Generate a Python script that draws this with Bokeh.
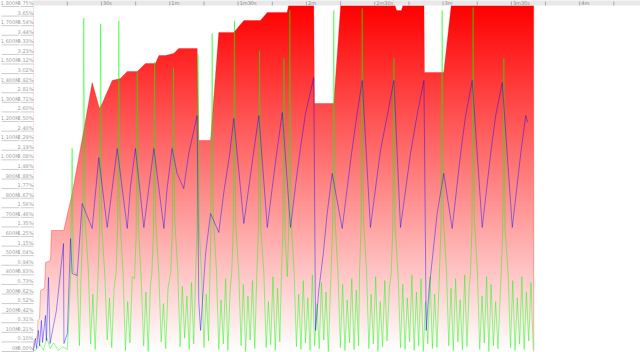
import numpy as np
from bokeh.plotting import figure
from bokeh.models import Range1d
from bokeh.embed import file_html
from bokeh.resources import INLINE
from bokeh.core.properties import value

# ---------------- data (seconds, megabytes) ----------------
# heap size (red filled envelope)
heap_t = [0.0, 0.1, 0.35, 1.45, 1.9, 2.1, 2.8, 3.2, 5.0, 5.4, 7.6, 8.0, 13.4, 17.1, 22.2, 25.9,
          29.1, 30.3, 34.7, 38.3, 41.3, 45.7, 49.3, 53.7, 55.2, 58.1, 61.7, 63.9, 72.0, 72.7,
          77.9, 81.5, 88.1, 88.8, 92.5, 99.8, 102.8, 111.5, 113.0, 123.2, 123.5, 132.0, 135.3,
          157.7, 159.6, 161.7, 163.5, 171.6, 171.8, 180.3, 184.0, 219.8, 219.8]
heap_v = [0, 10, 57, 68, 94, 162, 172, 318, 329, 464, 475, 631, 631, 824, 1153, 1403,
          1268, 1294, 1414, 1424, 1461, 1461, 1503, 1503, 1544, 1544, 1555, 1581, 1581, 1101,
          1101, 1664, 1664, 1675, 1727, 1727, 1769, 1769, 1850, 1850, 1294, 1294, 1850,
          1850, 1779, 1779, 1850, 1850, 1456, 1456, 1850, 1850, 0]

# used memory (blue line)
used_t = [0.1, 1.0, 1.45, 2.3, 2.8, 3.6, 4.1, 5.4, 5.8, 6.7, 7.4, 8.5, 10.2, 13.3, 13.5, 15.0,
          16.4, 17.1, 19.3, 21.5, 25.9, 28.8, 32.5, 34.7, 36.9, 41.3, 42.7, 44.9, 48.6, 50.8,
          53.0, 57.4, 58.8, 61.0, 63.2, 66.1, 68.3, 72.0, 72.7, 73.5, 75.7, 77.9, 81.5, 83.7,
          86.2, 88.1, 92.5, 96.6, 99.1, 102.8, 105.0, 107.2, 109.4, 113.0, 115.2, 117.4, 119.6,
          123.2, 124.0, 125.4, 127.4, 129.1, 131.3, 135.7, 139.8, 142.0, 144.5, 148.1, 152.5,
          155.5, 158.4, 161.3, 165.7, 168.7, 171.6, 172.6, 173.8, 177.4, 180.3, 184.0, 187.7,
          189.9, 192.8, 197.2, 200.9, 203.1, 206.0, 210.4, 214.1, 216.3, 217.1]
used_v = [5, 68, 16, 110, 31, 162, 47, 188, 57, 386, 42, 110, 214, 563, 42, 94,
          590, 407, 396, 772, 642, 1012, 647, 850, 1059, 642, 856, 1059, 647, 856,
          1059, 642, 850, 1059, 929, 850, 1033, 1231, 266, 110, 511, 720, 621, 830,
          1023, 1216, 668, 1023, 1231, 647, 856, 1059, 1247, 647, 866, 1064, 1242,
          1429, 110, 318, 511, 720, 929, 642, 1033, 1221, 1414, 647, 1049,
          1231, 1414, 647, 1033, 1242, 1414, 110, 318, 720, 929, 642, 1033,
          1231, 1414, 647, 1033, 1231, 1403, 647, 1033, 1231, 1195]

# collector activity (green line)
gc_t = [0, 1.5, 3, 4.5, 6, 7.5, 9, 11, 13, 15,
        16.4, 17.1, 17.6, 19.3, 20.3,
        21.0, 21.7, 22.2, 22.7, 24.2, 25.2, 26.2, 27.2,
        28.4, 29.1, 29.6, 30.1, 31.5, 32.5, 33.5, 34.5, 35.5,
        36.4, 37.1, 37.6, 38.1, 39.5, 40.5, 41.5, 42.5, 43.5,
        44.5, 45.2, 45.7, 46.2, 47.5, 48.5, 49.5, 50.5, 51.5,
        52.1, 52.8, 53.3, 53.8, 55.2, 56.2, 57.2, 58.2, 59.2,
        60.4, 61.1, 61.6, 62.1, 63.5, 64.5, 65.5, 66.5, 67.5, 68.5, 69.5, 70.5,
        71.3, 71.9, 72.4, 72.9, 74.0, 75.0, 76.0, 77.0,
        77.6, 78.1, 78.6, 79.1, 80.5, 81.5, 82.5, 83.5, 84.5, 85.5, 86.5,
        87.2, 87.9, 88.4, 88.9, 90.3, 91.3, 92.3, 93.3, 94.3, 95.3, 96.3, 97.3,
        98.2, 98.9, 99.4, 99.9, 101.3, 102.3, 103.3, 104.3, 105.3, 106.3, 107.3, 108.3,
        109.0, 109.6, 110.1, 110.6, 111.6, 112.2, 112.7, 113.2, 114.6, 115.6, 116.6, 117.6,
        118.6, 119.6, 120.6, 121.6, 122.6, 123.6, 124.6, 125.6, 126.6, 127.6, 128.6, 129.6,
        130.8, 131.5, 132.0, 132.5, 133.9, 134.9, 135.9, 136.9, 137.9, 138.9, 139.9, 140.9, 141.9, 142.9,
        143.3, 144.0, 144.5, 145.0, 146.4, 147.4, 148.4, 149.4, 150.4, 151.4, 152.4, 153.4, 154.4, 155.4, 156.4,
        157.2, 157.9, 158.4, 158.9, 160.3, 161.3, 162.3, 163.3, 164.3, 165.3, 166.3, 167.3, 168.3, 169.3,
        170.3, 171.3, 172.3, 173.3, 174.3, 175.3, 176.3, 177.3,
        178.4, 179.1, 179.6, 180.1, 181.5, 182.5, 183.5, 184.5, 185.5, 186.5, 187.5, 188.5, 189.5, 190.5, 191.5,
        192.0, 192.7, 193.2, 193.7, 195.1, 196.1, 197.1, 198.1, 199.1, 200.1, 201.1, 202.1, 203.1, 204.1,
        205.5, 206.2, 206.7, 207.2, 208.6, 209.6, 210.6, 211.6, 212.6, 213.6, 214.6, 215.6, 216.6, 217.6, 218.6, 219.6]
gc_v = [0, 12, 35, 8, 70, 15, 45, 5, 25, 10,
        380, 1060, 420, 400, 30,
        380, 640, 1740, 700, 430, 40, 300, 10,
        370, 620, 1710, 650, 390, 60, 280, 20, 330,
        410, 660, 1725, 700, 400, 5, 260, 45, 390,
        380, 600, 1455, 650, 360, 30, 310, 0, 350,
        400, 620, 1510, 680, 400, 50, 250, 15, 330,
        410, 640, 1480, 700, 420, 25, 340, 70, 290, 10, 360, 40,
        390, 630, 1550, 650, 380, 20, 300, 55,
        400, 650, 1660, 700, 420, 10, 270, 40, 380, 5, 320,
        410, 660, 1725, 680, 400, 30, 350, 0, 290, 60, 370, 15,
        400, 640, 1570, 650, 410, 20, 260, 35, 390, 5, 330, 50,
        390, 620, 1530, 600, 390, 640, 1780, 700, 410, 25, 300, 10,
        370, 45, 280, 5, 400, 30, 250, 15, 360, 60, 310, 0,
        410, 650, 1780, 700, 400, 20, 350, 5, 270, 45, 380, 10, 320, 30,
        410, 660, 1790, 690, 420, 15, 300, 40, 390, 0, 260, 25, 370, 55, 330,
        400, 640, 1530, 660, 390, 20, 350, 10, 280, 50, 400, 5, 310, 30,
        380, 0, 260, 40, 390, 15, 300, 20,
        410, 660, 1780, 700, 420, 30, 330, 5, 380, 50, 270, 10, 400, 25, 340,
        400, 660, 1795, 700, 410, 10, 290, 45, 390, 0, 350, 30, 260, 15,
        410, 630, 1530, 650, 400, 20, 370, 5, 280, 40, 390, 10, 310, 55, 360, 10]
assert len(gc_t) == len(gc_v) and len(used_t) == len(used_v) and len(heap_t) == len(heap_v)

# axis ticks / labels
mem_ticks = [0, 100, 200, 300, 400, 500, 600, 700, 800, 900, 1000, 1100, 1200, 1300, 1400,
             1500, 1600, 1700, 1800]
mem_labels = ["0M", "100M", "200M", "300M", "400M", "500M", "600M", "700M", "800M", "900M",
              "1,000M", "1,100M", "1,200M", "1,300M", "1,400M", "1,500M", "1,600M", "1,700M",
              "1,800M"]
pct_ticks = list(range(0, 1801, 50))
total_mem = 48000
pct_labels = [f"{v / total_mem * 100:.2f}%" for v in pct_ticks]
time_minor = [15, 45, 75, 105, 135, 165, 195, 225, 255]
time_major = [30, 60, 90, 120, 150, 180, 210, 240]
time_labels = ["30s", "1m", "1m30s", "2m", "2m30s", "3m", "3m30s", "4m"]

# ---------------- layout ----------------
W, H = 640, 352
X0, X1 = -14.36, 266.7
Y0, Y1 = -5.2, 1831.3


def px_to_t(px):
    return X0 + px * (X1 - X0) / W


def py_to_v(py):
    return Y1 - py * (Y1 - Y0) / H


p = figure(width=W, height=H, x_range=Range1d(X0, X1), y_range=Range1d(Y0, Y1),
           output_backend="svg", toolbar_location=None, min_border=0,
           background_fill_color="white", border_fill_color="white")
p.xaxis.visible = False
p.yaxis.visible = False
p.grid.visible = False
p.outline_line_color = None

band_v = py_to_v(5)

# vertical gradient red (top) -> white (bottom)
n = 346
rgba = np.zeros((n, 1, 4), dtype=np.uint8)
f = np.linspace(0.0, 1.0, n)
rgba[:, 0, 0] = 255
rgba[:, 0, 1] = np.round(255 * (1 - f)).astype(np.uint8)
rgba[:, 0, 2] = np.round(255 * (1 - f)).astype(np.uint8)
rgba[:, 0, 3] = 255
img = rgba.view(dtype=np.uint32).reshape((n, 1))
p.image_rgba(image=[img], x=0, y=0, dw=max(heap_t), dh=band_v)

# mask above the heap envelope
p.varea(x=heap_t, y1=heap_v, y2=[1900] * len(heap_t), fill_color="white")
p.line(heap_t, heap_v, line_color=(255, 0, 0, 0.3), line_width=1)

# series
p.line(gc_t, gc_v, line_color=(0, 255, 0, 0.45), line_width=1)
p.line(used_t, used_v, line_color=(0, 0, 255, 0.42), line_width=1)

# top time band
p.quad(left=px_to_t(32), right=X1, bottom=band_v, top=Y1 + 10,
       fill_color="#e8e8e8", line_color=None)
p.segment(x0=time_minor + time_major, x1=time_minor + time_major,
          y0=[py_to_v(5)] * 17, y1=[py_to_v(1)] * 17, line_color="#aaaaaa", line_width=1)
p.text(x=time_major, y=[band_v] * len(time_major), text=time_labels,
       text_font=value("DejaVu Sans"), text_font_size="5px", text_color="#888888",
       text_align="left", text_baseline="bottom", x_offset=1.5, y_offset=0)

# left labels with underlines
p.segment(x0=[px_to_t(1)] * len(pct_ticks), x1=[px_to_t(19)] * len(pct_ticks),
          y0=pct_ticks, y1=pct_ticks, line_color="#cccccc", line_width=1)
p.segment(x0=[px_to_t(20)] * len(pct_ticks), x1=[px_to_t(33)] * len(pct_ticks),
          y0=pct_ticks, y1=pct_ticks, line_color="#cccccc", line_width=1)
p.text(x=[px_to_t(19)] * len(mem_ticks), y=mem_ticks, text=mem_labels,
       text_font=value("DejaVu Sans"), text_font_size="5px", text_color="#a0a0a0",
       text_align="right", text_baseline="bottom", y_offset=-0.5)
p.text(x=[px_to_t(33)] * len(pct_ticks), y=pct_ticks, text=pct_labels,
       text_font=value("DejaVu Sans"), text_font_size="5px", text_color="#a0a0a0",
       text_align="right", text_baseline="bottom", y_offset=-0.5)

open("out.html", "w").write(file_html(p, INLINE))
